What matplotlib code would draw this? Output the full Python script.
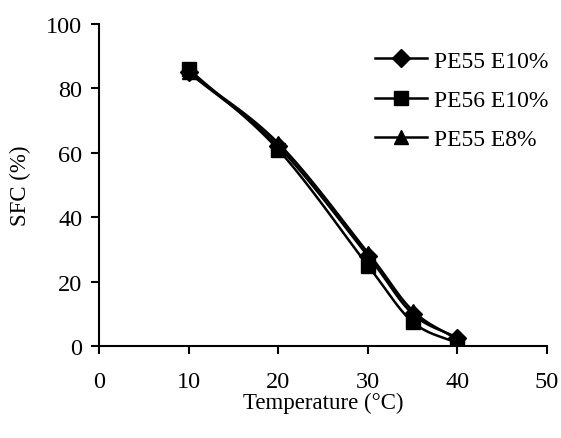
import numpy as np
import matplotlib
matplotlib.use("Agg")
import matplotlib.pyplot as plt

temps = [10, 20, 30, 35, 40]
pe55_e10 = [85, 62, 28, 10, 2.5]
pe56_e10 = [86, 61, 25, 7.5, 0.8]
pe55_e8 = [85, 63, 29, 11, 2.0]
labels = ["PE55 E10%", "PE56 E10%", "PE55 E8%"]
markers = ["D", "s", "^"]

plt.rcParams['font.family'] = ['Liberation Serif', 'DejaVu Serif']

def smooth(x, y, n=30):
    # Catmull-Rom spline through the data points (Excel-like smoothing)
    x = np.asarray(x, float); y = np.asarray(y, float)
    px = np.concatenate([[2*x[0]-x[1]], x, [2*x[-1]-x[-2]]])
    py = np.concatenate([[2*y[0]-y[1]], y, [2*y[-1]-y[-2]]])
    xs, ys = [], []
    t = np.linspace(0, 1, n)
    for i in range(1, len(px)-2):
        p0, p1, p2, p3 = [np.array([px[j], py[j]]) for j in range(i-1, i+3)]
        for tt in t:
            pt = 0.5*((2*p1) + (-p0+p2)*tt + (2*p0-5*p1+4*p2-p3)*tt**2 + (-p0+3*p1-3*p2+p3)*tt**3)
            xs.append(pt[0]); ys.append(pt[1])
    return xs, ys

fig = plt.figure(figsize=(5.61, 4.39), dpi=100)
ax = fig.add_axes([99/561, 1-347/439, (547-99)/561, (347-25)/439])

series = [pe55_e10, pe56_e10, pe55_e8]
msizes = [9, 10, 10]
for vals, lab, m, ms in zip(series, labels, markers, msizes):
    sx, sy = smooth(temps, vals)
    ax.plot(sx, sy, color='black', lw=1.8, zorder=2)
    ax.plot(temps, vals, linestyle='none', marker=m, color='black', ms=ms, zorder=3)
    ax.plot([], [], color='black', lw=1.8, marker=m, ms=ms, label=lab)

ax.set_xlim(0, 50)
ax.set_ylim(0, 100)
ax.set_xticks(range(0, 51, 10))
ax.set_yticks(range(0, 101, 20))
for s in ['top', 'right']:
    ax.spines[s].set_visible(False)
for s in ['left', 'bottom']:
    ax.spines[s].set_linewidth(1.5)
ax.tick_params(direction='out', length=6, width=1.5, labelsize=17.5, pad=6)
ax.tick_params(axis='x', pad=12)
ax.set_xlabel('Temperature (°C)', fontsize=16.5, labelpad=0)
ax.set_ylabel('SFC (%)', fontsize=16.5, labelpad=11)
ax.legend(loc='upper right', bbox_to_anchor=(1.05, 0.985), frameon=False, fontsize=17,
          handlelength=2.2, handletextpad=0.3, labelspacing=0.75)

fig.savefig('out.png', dpi=100)
